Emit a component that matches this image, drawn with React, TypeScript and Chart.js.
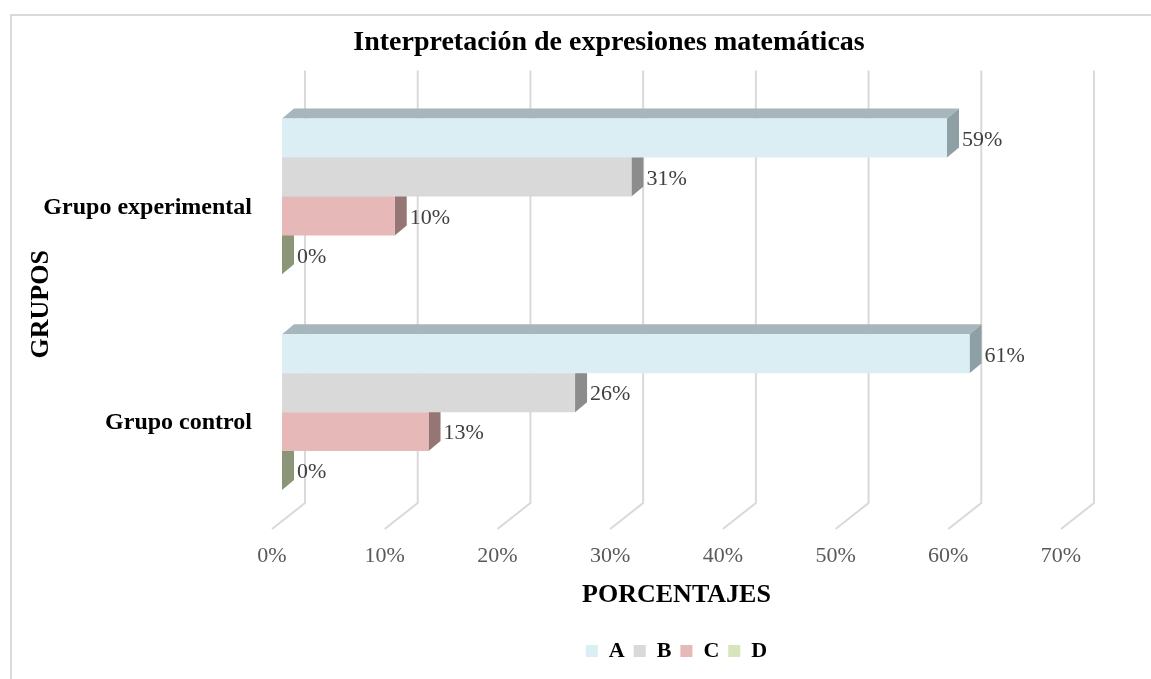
import React, { useEffect, useRef } from 'react';
import { Chart, registerables } from 'chart.js';

Chart.register(...registerables);

// ---- data ----
const categories = ['Grupo experimental', 'Grupo control'];
const seriesNames = ['A', 'B', 'C', 'D'];
const valuesA = [59, 61];
const valuesB = [31, 26];
const valuesC = [10, 13];
const valuesD = [0, 0];
const xMin = 0;
const xMax = 70;
const xStep = 10;
const chartTitle = 'Interpretación de expresiones matemáticas';
const xTitle = 'PORCENTAJES';
const yTitle = 'GRUPOS';

// ---- styles ----
const FONT = "'Liberation Serif', 'Times New Roman', serif";
const frontColors = ['#DBEEF4', '#D9D9D9', '#E6B9B8', '#D7E4BD'];
const topColors = ['#A7B6BB', '#A6A6A6', '#B08D8C', '#A3AD8E'];
const sideColors = ['#8FA0A5', '#8C8C8C', '#967675', '#8A9677'];
const DX = 12; // bar depth (x)
const DY = 10; // bar depth (y)

const allValues = [valuesA, valuesB, valuesC, valuesD];

const threeDPlugin = {
  id: 'threeD',
  beforeDraw(chart: any) {
    const { ctx } = chart;
    ctx.save();
    ctx.strokeStyle = '#D9D9D9';
    ctx.lineWidth = 2;
    ctx.strokeRect(11, 15, chart.width - 13, chart.height + 20);
    ctx.restore();
  },
  beforeDatasetsDraw(chart: any) {
    const { ctx, chartArea } = chart;
    const xs = chart.scales.x;
    ctx.save();
    ctx.strokeStyle = '#D9D9D9';
    ctx.lineWidth = 2;
    xs.ticks.forEach((t: any) => {
      const px = xs.getPixelForValue(t.value);
      ctx.beginPath();
      ctx.moveTo(px + 23, chartArea.top - 18);
      ctx.lineTo(px + 23, chartArea.bottom - 17);
      ctx.lineTo(px - 10, chartArea.bottom + 9);
      ctx.stroke();
    });
    ctx.restore();
  },
  beforeDatasetDraw(chart: any, args: any) {
    const { ctx } = chart;
    const i = args.index;
    ctx.save();
    args.meta.data.forEach((el: any) => {
      const left = Math.min(el.x, el.base);
      const right = Math.max(el.x, el.base);
      const top = el.y - el.height / 2;
      const bottom = el.y + el.height / 2;
      // top face
      ctx.fillStyle = topColors[i];
      ctx.beginPath();
      ctx.moveTo(left, top);
      ctx.lineTo(right, top);
      ctx.lineTo(right + DX, top - DY);
      ctx.lineTo(left + DX, top - DY);
      ctx.closePath();
      ctx.fill();
      // side face
      ctx.fillStyle = sideColors[i];
      ctx.beginPath();
      ctx.moveTo(right, top);
      ctx.lineTo(right + DX, top - DY);
      ctx.lineTo(right + DX, bottom - DY);
      ctx.lineTo(right, bottom);
      ctx.closePath();
      ctx.fill();
    });
    ctx.restore();
  },
  afterDatasetsDraw(chart: any) {
    const { ctx } = chart;
    ctx.save();
    ctx.font = `22px ${FONT}`;
    ctx.fillStyle = '#404040';
    ctx.textAlign = 'left';
    ctx.textBaseline = 'middle';
    chart.data.datasets.forEach((ds: any, i: number) => {
      const meta = chart.getDatasetMeta(i);
      meta.data.forEach((el: any, j: number) => {
        const right = Math.max(el.x, el.base);
        ctx.fillText(`${ds.data[j]}%`, right + DX + 3, el.y + 2);
      });
    });
    ctx.restore();
  },
};

export default function App() {
  const ref = useRef<HTMLCanvasElement | null>(null);

  useEffect(() => {
    if (!ref.current) return;
    const chart = new Chart(ref.current, {
      type: 'bar',
      data: {
        labels: categories,
        datasets: seriesNames.map((name, i) => ({
          label: name,
          data: allValues[i],
          backgroundColor: frontColors[i],
          borderWidth: 0,
          categoryPercentage: 0.7222,
          barPercentage: 1,
        })),
      },
      options: {
        indexAxis: 'y',
        responsive: false,
        animation: false,
        devicePixelRatio: 1,
        events: [],
        layout: { padding: { left: 10, right: 2, top: 0, bottom: 7 } },
        scales: {
          x: {
            min: xMin,
            max: xMax,
            grid: { display: false, drawTicks: false, tickLength: 0 },
            border: { display: false },
            ticks: {
              stepSize: xStep,
              padding: 23,
              labelOffset: -10,
              color: '#595959',
              font: { family: FONT, size: 22 },
              callback: (v: any) => `${v}%`,
            },
            title: {
              display: true,
              text: xTitle,
              color: '#000',
              font: { family: FONT, size: 26, weight: 'bold' },
              padding: { top: 0, bottom: 20 },
            },
            afterFit: (s: any) => {
              s.height = 111;
            },
          },
          y: {
            grid: { display: false, drawTicks: false, tickLength: 0 },
            border: { display: false },
            ticks: {
              padding: 30,
              labelOffset: 11,
              color: '#000',
              font: { family: FONT, size: 24, weight: 'bold' },
            },
            title: {
              display: true,
              text: yTitle,
              color: '#000',
              font: { family: FONT, size: 26, weight: 'bold' },
              padding: { top: 16, bottom: 0 },
            },
            afterFit: (s: any) => {
              s.width = 272;
            },
          },
          yR: {
            type: 'category',
            position: 'right',
            display: true,
            grid: { display: false, drawTicks: false },
            border: { display: false },
            ticks: { display: false },
            afterFit: (s: any) => {
              s.width = 137;
            },
          },
        },
        plugins: {
          title: {
            display: true,
            text: chartTitle,
            color: '#000',
            font: { family: FONT, size: 28, weight: 'bold' },
            padding: { top: 26, bottom: 29 },
          },
          legend: {
            display: true,
            position: 'bottom',
            fullSize: false,
            labels: {
              boxWidth: 12,
              boxHeight: 12,
              padding: 9,
              color: '#000',
              font: { family: FONT, size: 22, weight: 'bold' },
            },
          },
          tooltip: { enabled: false },
        },
      },
      plugins: [threeDPlugin],
    } as any);
    return () => chart.destroy();
  }, []);

  return (
    <div style={{ position: 'absolute', left: 0, top: 0, width: 1151, height: 679, overflow: 'hidden', background: '#fff' }}>
      <canvas ref={ref} width={1210} height={679} style={{ display: 'block' }} />
    </div>
  );
}
